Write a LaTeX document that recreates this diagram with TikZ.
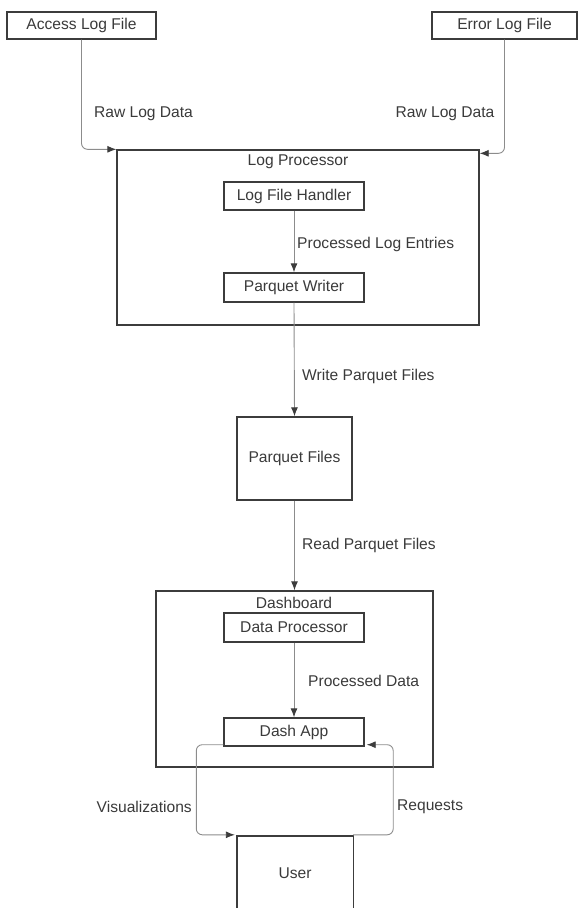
\documentclass[tikz,border=0pt]{standalone}
\usepackage{fontspec}
\setmainfont{Liberation Sans}
\usetikzlibrary{arrows.meta}
\definecolor{boxline}{HTML}{3C3C3C}
\definecolor{connline}{HTML}{8C8C8C}
\definecolor{txt}{HTML}{3A3A3A}
\begin{document}
\begin{tikzpicture}[x=1pt,y=-1pt,
  every node/.style={font=\fontsize{15.6}{18}\selectfont, text=txt, inner sep=0pt},
  blk/.style={draw=boxline, line width=1.4pt, rectangle, minimum width=#1},
  conn/.style={draw=connline, line width=0.9pt, rounded corners=6pt,
    -{Latex[length=9pt,width=7pt,color=boxline]}},
  lbl/.style={}]
\useasboundingbox (0,0) rectangle (578,908);
% top inputs
\node[blk=149, minimum height=27] (access) at (81.5,25.5) {Access Log File};
\node[blk=145, minimum height=27] (error) at (504.5,25.5) {Error Log File};
% log processor
\node[blk=362, minimum height=175] (lp) at (298,237.5) {};
\node[lbl] (lptitle) at (298,162) {Log Processor};
\node[blk=140, minimum height=28] (lfh) at (294,196) {Log File Handler};
\node[blk=140, minimum height=29] (pw) at (294,287.5) {Parquet Writer};
% parquet files
\node[blk=115, minimum height=83] (pf) at (294.5,458.5) {Parquet Files};
% dashboard
\node[blk=277, minimum height=176] (db) at (294.5,679) {};
\node[lbl] (dbtitle) at (294,603) {Dashboard};
\node[blk=140, minimum height=29] (dp) at (294,627.5) {Data Processor};
\node[blk=140, minimum height=28] (da) at (294,732) {Dash App};
% user (open at the bottom)
\node[minimum width=116, minimum height=74] (user) at (295,873) {User};
\draw[boxline, line width=1.4pt] (user.south west) -- (user.north west) -- (user.north east) -- (user.south east);
% labels
\node[lbl] (raw1) at (143.5,114) {Raw Log Data};
\node[lbl] (raw2) at (445,114) {Raw Log Data};
\node[lbl, anchor=west] (ple) at (297,244) {Processed Log Entries};
\node[lbl, anchor=west] (wpf) at (302,376) {Write Parquet Files};
\node[lbl, anchor=west] (rpf) at (302,545) {Read Parquet Files};
\node[lbl, anchor=west] (pd) at (308,681) {Processed Data};
\node[lbl, anchor=east] (vis) at (192,807) {Visualizations};
\node[lbl, anchor=west] (req) at (397,807) {Requests};
% connectors
\draw[conn] (access.south) |- (lp.north west);
\draw[conn] (error.south) |- ([yshift=-4pt]lp.north east);
\draw[conn] (lfh.south) -- (pw.north);
\draw[conn] (pw.south) -- (pf.north);
\draw[conn] (pf.south) -- (db.north);
\draw[conn] (dp.south) -- (da.north);
\draw[conn] ([yshift=2pt]da.south west) -- ++(-27,0) |- ([shift={(-2pt,1pt)}]user.north west);
\draw[conn] ([yshift=1pt]user.north east) -- ++(40,0) |- ([shift={(2pt,2pt)}]da.south east);
\end{tikzpicture}
\end{document}
